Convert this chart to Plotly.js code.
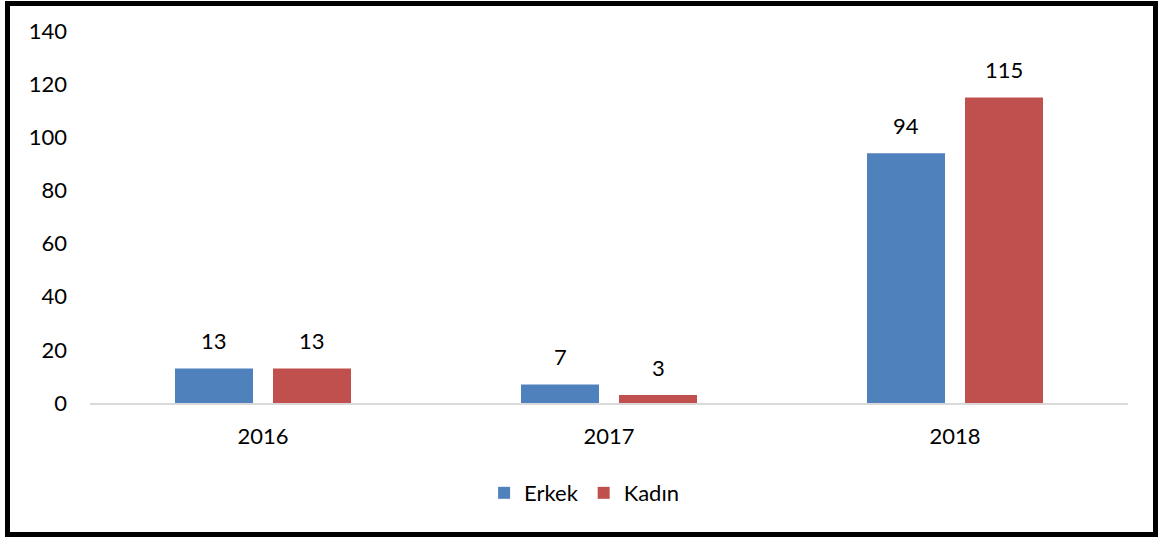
<!DOCTYPE html>
<html>
<head>
<meta charset="utf-8">
<script src="https://cdn.plot.ly/plotly-3.0.1.min.js"></script>
<style>
  html, body { margin: 0; padding: 0; background: #fff; }
  #wrap { position: relative; width: 1158px; height: 537px; }
  #chart { position: absolute; left: 0; top: 0; width: 1158px; height: 537px; }
  #frame { position: absolute; left: 5px; top: 1px; width: 1143px; height: 526px; border: 5px solid #000; box-sizing: content-box; pointer-events: none; }
</style>
</head>
<body>
<div id="wrap">
  <div id="chart"></div>
  <div id="frame"></div>
</div>
<script>
const years = ["2016", "2017", "2018"];
const erkek = [13, 7, 94];
const kadin = [13, 3, 115];
const seriesNames = ["Erkek", "Kadın"];
const yTicks = [0, 20, 40, 60, 80, 100, 120, 140];

const FONT = "Lato, 'Open Sans', sans-serif";
const colors = ["#4F81BD", "#C0504D"];

const traces = [erkek, kadin].map((vals, i) => ({
  type: "bar",
  name: seriesNames[i],
  x: years,
  y: vals,
  marker: { color: colors[i] },
  hoverinfo: "x+y+name"
}));

const annotations = [];
[erkek, kadin].forEach((vals, i) => {
  vals.forEach((v, j) => {
    annotations.push({
      x: j, y: v, xref: "x", yref: "y",
      text: String(v), showarrow: false,
      xshift: i === 0 ? -49 : 49, yshift: 12,
      yanchor: "bottom",
      font: { family: FONT, size: 22, color: "#000" }
    });
  });
});

const layout = {
  width: 1158, height: 537,
  margin: { l: 90, r: 30, t: 31, b: 134 },
  paper_bgcolor: "#fff", plot_bgcolor: "#fff",
  barmode: "group",
  bargap: 0.4335,
  bargroupgap: 0.204,
  font: { family: FONT, size: 22, color: "#000" },
  xaxis: {
    type: "category",
    range: [-0.5, 2.5],
    showline: true, linecolor: "#D9D9D9", linewidth: 1.5,
    showgrid: false, zeroline: false, ticks: "",
    ticklabelstandoff: 13,
    tickfont: { family: FONT, size: 22, color: "#000" }
  },
  yaxis: {
    range: [0, 140],
    tickvals: yTicks,
    ticktext: yTicks.map(String),
    showline: false, showgrid: false, zeroline: false, ticks: "",
    ticklabelstandoff: 22,
    tickfont: { family: FONT, size: 22, color: "#000" }
  },
  showlegend: true,
  legend: {
    orientation: "h", x: 0.476, xanchor: "center", y: -0.242, yanchor: "middle",
    font: { family: FONT, size: 22, color: "#000" },
    itemwidth: 30,
    traceorder: "normal"
  },
  annotations: annotations
};

Plotly.newPlot("chart", traces, layout, { displayModeBar: false, staticPlot: true });
</script>
</body>
</html>
